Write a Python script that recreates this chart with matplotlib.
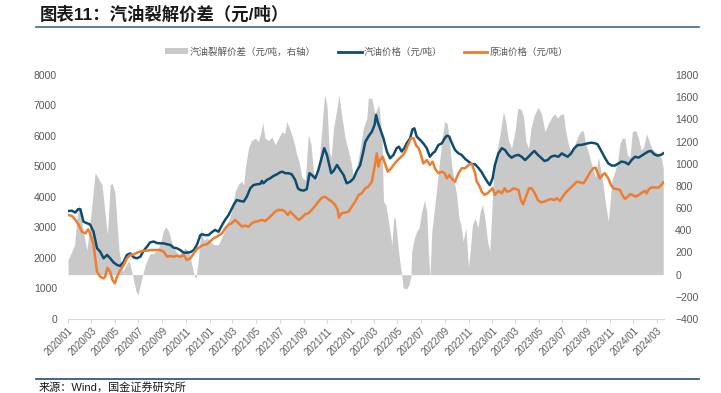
import pandas as pd
import matplotlib.pyplot as plt
import matplotlib.dates as mdates
from matplotlib.patches import Patch
from matplotlib.lines import Line2D

plt.rcParams['font.family'] = ['Liberation Sans', 'Noto Sans CJK SC']

# 汽油价格（元/吨）
gas_dates = ['2020-01-01', '2020-01-11', '2020-01-20', '2020-01-27', '2020-02-02', '2020-02-10', '2020-02-19',
             '2020-02-27', '2020-03-07', '2020-03-16', '2020-03-24', '2020-04-02', '2020-04-11', '2020-04-19',
             '2020-04-28', '2020-05-07', '2020-05-15', '2020-05-24', '2020-06-01', '2020-06-10', '2020-06-19',
             '2020-06-27', '2020-07-06', '2020-07-14', '2020-07-23', '2020-07-31', '2020-08-09', '2020-08-18',
             '2020-08-26', '2020-09-04', '2020-09-13', '2020-09-21', '2020-09-30', '2020-10-08', '2020-10-17',
             '2020-10-26', '2020-11-03', '2020-11-12', '2020-11-21', '2020-11-29', '2020-12-08', '2020-12-12',
             '2020-12-20', '2020-12-29', '2021-01-07', '2021-01-15', '2021-01-24', '2021-02-02', '2021-02-10',
             '2021-02-19', '2021-02-27', '2021-03-06', '2021-03-12', '2021-03-21', '2021-03-30', '2021-04-07',
             '2021-04-16', '2021-04-24', '2021-05-03', '2021-05-12', '2021-05-16', '2021-05-20', '2021-05-29',
             '2021-06-06', '2021-06-15', '2021-06-24', '2021-07-02', '2021-07-08', '2021-07-15', '2021-07-24',
             '2021-08-01', '2021-08-10', '2021-08-17', '2021-08-23', '2021-09-01', '2021-09-09', '2021-09-16',
             '2021-09-22', '2021-10-01', '2021-10-09', '2021-10-18', '2021-10-24', '2021-10-31', '2021-11-06',
             '2021-11-11', '2021-11-17', '2021-11-26', '2021-12-04', '2021-12-13', '2021-12-21', '2021-12-30',
             '2022-01-08', '2022-01-16', '2022-01-25', '2022-02-02', '2022-02-07', '2022-02-15', '2022-02-24',
             '2022-03-03', '2022-03-07', '2022-03-11', '2022-03-17', '2022-03-26', '2022-04-04', '2022-04-12',
             '2022-04-21', '2022-04-29', '2022-05-05', '2022-05-12', '2022-05-19', '2022-05-25', '2022-06-03',
             '2022-06-09', '2022-06-14', '2022-06-20', '2022-06-29', '2022-07-07', '2022-07-16', '2022-07-24',
             '2022-07-31', '2022-08-06', '2022-08-15', '2022-08-24', '2022-08-31', '2022-09-06', '2022-09-12',
             '2022-09-18', '2022-09-27', '2022-10-06', '2022-10-14', '2022-10-23', '2022-11-01', '2022-11-09',
             '2022-11-18', '2022-11-26', '2022-12-05', '2022-12-13', '2022-12-22', '2022-12-26', '2023-01-02',
             '2023-01-08', '2023-01-17', '2023-01-26', '2023-02-03', '2023-02-12', '2023-02-20', '2023-03-01',
             '2023-03-10', '2023-03-18', '2023-03-27', '2023-04-05', '2023-04-13', '2023-04-20', '2023-04-29',
             '2023-05-07', '2023-05-16', '2023-05-24', '2023-06-02', '2023-06-11', '2023-06-21', '2023-06-30',
             '2023-07-06', '2023-07-15', '2023-07-24', '2023-08-01', '2023-08-10', '2023-08-18', '2023-08-27',
             '2023-09-05', '2023-09-15', '2023-09-24', '2023-09-30', '2023-10-06', '2023-10-13', '2023-10-19',
             '2023-10-28', '2023-11-06', '2023-11-14', '2023-11-23', '2023-12-01', '2023-12-10', '2023-12-19',
             '2023-12-27', '2024-01-05', '2024-01-14', '2024-01-22', '2024-01-31', '2024-02-08', '2024-02-15',
             '2024-02-24', '2024-03-03', '2024-03-12', '2024-03-18']
gas_price = [3540, 3550, 3490, 3600, 3600, 3190, 3140, 3100, 2860, 2320, 2210, 1990, 2100, 1990,
             1850, 1770, 1740, 1880, 2100, 2150, 2020, 1990, 2045, 2230, 2370, 2510, 2540, 2490,
             2480, 2480, 2450, 2430, 2340, 2320, 2260, 2175, 2175, 2190, 2260, 2430, 2750, 2780,
             2750, 2750, 2850, 2920, 2860, 3080, 3250, 3410, 3610, 3790, 3900, 3870, 3850, 4010,
             4285, 4390, 4415, 4430, 4525, 4450, 4560, 4610, 4690, 4745, 4810, 4830, 4780, 4780,
             4745, 4560, 4285, 4230, 4210, 4260, 4780, 4720, 4610, 4890, 5320, 5600, 5380, 5050,
             4780, 4850, 5050, 4890, 4720, 4450, 4500, 4610, 4850, 5050, 5490, 5800, 5980, 6140,
             6360, 6690, 6470, 6250, 5925, 5490, 5270, 5380, 5600, 5650, 5490, 5600, 5760, 5925,
             6220, 6250, 5980, 5870, 5760, 5600, 5320, 5430, 5490, 5705, 5760, 5925, 6010, 5980,
             5790, 5540, 5430, 5380, 5250, 5160, 5080, 5070, 4960, 4810, 4630, 4450, 4390, 4610,
             5050, 5430, 5600, 5540, 5380, 5290, 5355, 5380, 5320, 5210, 5320, 5430, 5510, 5380,
             5290, 5180, 5210, 5320, 5355, 5320, 5430, 5380, 5320, 5430, 5600, 5705, 5705, 5730,
             5760, 5780, 5760, 5730, 5600, 5430, 5290, 5100, 5030, 5030, 5100, 5160, 5140, 5070,
             5210, 5320, 5290, 5355, 5430, 5490, 5510, 5400, 5355, 5380, 5430]

# 原油价格（元/吨）
crude_dates = ['2020-01-01', '2020-01-11', '2020-01-20', '2020-01-29', '2020-02-06', '2020-02-15', '2020-02-22',
               '2020-02-27', '2020-03-07', '2020-03-16', '2020-03-24', '2020-04-02', '2020-04-06', '2020-04-12',
               '2020-04-19', '2020-04-25', '2020-05-01', '2020-05-07', '2020-05-15', '2020-05-24', '2020-06-01',
               '2020-06-10', '2020-06-19', '2020-06-27', '2020-07-06', '2020-07-14', '2020-07-23', '2020-07-31',
               '2020-08-13', '2020-08-26', '2020-09-04', '2020-09-13', '2020-09-21', '2020-09-30', '2020-10-08',
               '2020-10-17', '2020-10-26', '2020-11-03', '2020-11-12', '2020-11-21', '2020-11-29', '2020-12-08',
               '2020-12-16', '2020-12-25', '2021-01-02', '2021-01-11', '2021-01-20', '2021-02-02', '2021-02-10',
               '2021-02-19', '2021-02-27', '2021-03-08', '2021-03-17', '2021-03-25', '2021-04-03', '2021-04-12',
               '2021-04-20', '2021-04-29', '2021-05-07', '2021-05-16', '2021-05-24', '2021-06-02', '2021-06-11',
               '2021-06-19', '2021-06-28', '2021-07-07', '2021-07-15', '2021-07-22', '2021-07-28', '2021-08-06',
               '2021-08-14', '2021-08-20', '2021-08-27', '2021-09-05', '2021-09-13', '2021-09-22', '2021-10-01',
               '2021-10-09', '2021-10-18', '2021-10-26', '2021-11-04', '2021-11-13', '2021-11-21', '2021-11-28',
               '2021-12-01', '2021-12-08', '2021-12-17', '2021-12-26', '2022-01-03', '2022-01-12', '2022-01-21',
               '2022-01-29', '2022-02-07', '2022-02-15', '2022-02-24', '2022-03-04', '2022-03-09', '2022-03-13',
               '2022-03-17', '2022-03-24', '2022-03-30', '2022-04-06', '2022-04-15', '2022-04-24', '2022-05-02',
               '2022-05-11', '2022-05-19', '2022-05-28', '2022-06-05', '2022-06-12', '2022-06-18', '2022-06-25',
               '2022-07-01', '2022-07-07', '2022-07-16', '2022-07-24', '2022-07-31', '2022-08-06', '2022-08-15',
               '2022-08-24', '2022-08-31', '2022-09-06', '2022-09-12', '2022-09-18', '2022-09-27', '2022-10-06',
               '2022-10-14', '2022-10-23', '2022-11-01', '2022-11-09', '2022-11-18', '2022-11-22', '2022-11-28',
               '2022-12-05', '2022-12-12', '2022-12-20', '2022-12-26', '2023-01-02', '2023-01-08', '2023-01-17',
               '2023-01-26', '2023-02-02', '2023-02-08', '2023-02-16', '2023-02-25', '2023-03-10', '2023-03-16',
               '2023-03-22', '2023-03-29', '2023-04-06', '2023-04-13', '2023-04-20', '2023-04-29', '2023-05-07',
               '2023-05-16', '2023-05-24', '2023-06-02', '2023-06-11', '2023-06-17', '2023-06-25', '2023-07-04',
               '2023-07-12', '2023-07-21', '2023-07-30', '2023-08-07', '2023-08-16', '2023-08-25', '2023-09-02',
               '2023-09-11', '2023-09-19', '2023-09-25', '2023-09-30', '2023-10-06', '2023-10-13', '2023-10-19',
               '2023-10-28', '2023-11-04', '2023-11-10', '2023-11-19', '2023-11-27', '2023-12-03', '2023-12-10',
               '2023-12-17', '2023-12-23', '2023-12-29', '2024-01-07', '2024-01-15', '2024-01-24', '2024-01-31',
               '2024-02-04', '2024-02-10', '2024-02-17', '2024-02-27', '2024-03-06', '2024-03-13', '2024-03-18']
crude_price = [3410, 3380, 3250, 3080, 2860, 2810, 2940, 2810, 2430, 1550, 1390, 1330, 1390, 1680,
               1550, 1280, 1170, 1390, 1610, 1770, 1990, 2100, 2120, 2175, 2210, 2230, 2240, 2260,
               2260, 2260, 2210, 2040, 2065, 2040, 2075, 2040, 2100, 1935, 1990, 2150, 2295, 2370,
               2430, 2450, 2540, 2645, 2700, 2810, 2970, 3100, 3140, 3250, 3140, 3030, 3060, 3030,
               3140, 3190, 3210, 3250, 3210, 3300, 3410, 3520, 3575, 3575, 3520, 3410, 3520, 3410,
               3300, 3250, 3320, 3440, 3465, 3575, 3715, 3850, 3980, 4010, 3925, 3850, 3740, 3575,
               3320, 3465, 3490, 3520, 3680, 3850, 4070, 4120, 4285, 4340, 4500, 5050, 5430, 5000,
               5210, 5320, 5100, 4830, 4940, 5100, 5210, 5320, 5430, 5700, 5925, 5925, 5700, 5600,
               5380, 5100, 5210, 5050, 5160, 4940, 4780, 4830, 4780, 4610, 4720, 4610, 4500, 4780,
               4940, 4940, 5050, 5100, 4780, 4500, 4390, 4175, 4070, 4120, 4200, 4285, 4070, 4200,
               4120, 4285, 4175, 4200, 4285, 4230, 3900, 3760, 4010, 4285, 4285, 4150, 3900, 3825,
               3850, 3900, 3935, 3900, 3960, 3870, 4045, 4175, 4285, 4390, 4500, 4480, 4450, 4610,
               4810, 4940, 4960, 4810, 4610, 4720, 4780, 4610, 4390, 4285, 4260, 4230, 4070, 3935,
               4010, 4090, 4070, 4010, 4070, 4150, 4200, 4120, 4260, 4310, 4310, 4310, 4390, 4480]

# 汽油裂解价差（元/吨，右轴）
spread_dates = ['2020-01-01', '2020-01-11', '2020-01-18', '2020-01-24', '2020-01-30', '2020-02-04', '2020-02-11',
                '2020-02-19', '2020-03-02', '2020-03-11', '2020-03-24', '2020-03-29', '2020-04-06', '2020-04-12',
                '2020-04-19', '2020-04-24', '2020-05-01', '2020-05-07', '2020-05-12', '2020-05-18', '2020-05-22',
                '2020-05-28', '2020-06-06', '2020-06-12', '2020-06-19', '2020-06-25', '2020-06-30', '2020-07-06',
                '2020-07-12', '2020-07-19', '2020-07-26', '2020-07-31', '2020-08-09', '2020-08-18', '2020-08-26',
                '2020-09-04', '2020-09-10', '2020-09-17', '2020-09-26', '2020-10-04', '2020-10-13', '2020-10-21',
                '2020-10-30', '2020-11-08', '2020-11-16', '2020-11-23', '2020-11-27', '2020-12-03', '2020-12-10',
                '2020-12-16', '2020-12-25', '2021-01-02', '2021-01-07', '2021-01-15', '2021-01-24', '2021-02-02',
                '2021-02-15', '2021-02-27', '2021-03-08', '2021-03-17', '2021-03-25', '2021-03-30', '2021-04-03',
                '2021-04-12', '2021-04-20', '2021-04-29', '2021-05-07', '2021-05-14', '2021-05-18', '2021-05-24',
                '2021-06-02', '2021-06-11', '2021-06-19', '2021-06-28', '2021-07-07', '2021-07-14', '2021-07-19',
                '2021-07-25', '2021-08-01', '2021-08-08', '2021-08-14', '2021-08-20', '2021-08-27', '2021-09-05',
                '2021-09-13', '2021-09-20', '2021-09-26', '2021-10-02', '2021-10-09', '2021-10-18', '2021-10-25',
                '2021-10-31', '2021-11-06', '2021-11-11', '2021-11-17', '2021-11-26', '2021-12-01', '2021-12-08',
                '2021-12-17', '2021-12-26', '2022-01-01', '2022-01-08', '2022-01-16', '2022-01-25', '2022-02-02',
                '2022-02-11', '2022-02-15', '2022-02-24', '2022-03-04', '2022-03-14', '2022-03-22', '2022-03-26',
                '2022-04-01', '2022-04-08', '2022-04-17', '2022-04-21', '2022-04-25', '2022-04-29', '2022-05-05',
                '2022-05-12', '2022-05-16', '2022-05-25', '2022-05-31', '2022-06-05', '2022-06-07', '2022-06-14',
                '2022-06-20', '2022-06-26', '2022-07-03', '2022-07-10', '2022-07-16', '2022-07-20', '2022-07-24',
                '2022-07-29', '2022-08-05', '2022-08-11', '2022-08-17', '2022-08-24', '2022-08-31', '2022-09-07',
                '2022-09-12', '2022-09-18', '2022-09-25', '2022-10-01', '2022-10-07', '2022-10-12', '2022-10-18',
                '2022-10-25', '2022-11-01', '2022-11-05', '2022-11-11', '2022-11-18', '2022-11-25', '2022-12-01',
                '2022-12-07', '2022-12-13', '2022-12-20', '2022-12-26', '2023-01-04', '2023-01-13', '2023-01-21',
                '2023-01-30', '2023-02-05', '2023-02-12', '2023-02-20', '2023-03-01', '2023-03-08', '2023-03-17',
                '2023-03-23', '2023-03-29', '2023-04-05', '2023-04-11', '2023-04-20', '2023-04-30', '2023-05-09',
                '2023-05-17', '2023-05-26', '2023-06-04', '2023-06-12', '2023-06-19', '2023-06-25', '2023-07-04',
                '2023-07-10', '2023-07-17', '2023-07-25', '2023-08-03', '2023-08-12', '2023-08-20', '2023-08-25',
                '2023-08-30', '2023-09-06', '2023-09-13', '2023-09-19', '2023-09-25', '2023-10-02', '2023-10-06',
                '2023-10-13', '2023-10-19', '2023-10-24', '2023-10-28', '2023-11-01', '2023-11-06', '2023-11-14',
                '2023-11-21', '2023-11-27', '2023-12-03', '2023-12-10', '2023-12-16', '2023-12-23', '2023-12-29',
                '2024-01-07', '2024-01-14', '2024-01-21', '2024-01-27', '2024-02-04', '2024-02-10', '2024-02-17',
                '2024-02-25', '2024-03-05', '2024-03-13', '2024-03-18']
spread = [130, 210, 270, 510, 635, 510, 360, 220, 600, 920, 840, 810, 540, 360,
          810, 825, 750, 450, 210, 90, 30, 70, 130, 60, -60, -150, -180, -90,
          0, 90, 150, 190, 190, 220, 270, 400, 430, 390, 280, 220, 180, 210,
          240, 210, 90, -20, -30, 150, 420, 310, 330, 310, 280, 270, 270, 340,
          450, 570, 750, 820, 840, 810, 960, 1150, 1210, 1230, 1200, 1290, 1370, 1230,
          1210, 1240, 1170, 1230, 1290, 1270, 1380, 1330, 1260, 1180, 1080, 1020, 880, 850,
          1265, 1170, 930, 850, 930, 1320, 1620, 1530, 1110, 1060, 1320, 1500, 1620, 1440,
          1230, 1110, 1020, 870, 960, 1140, 1320, 1410, 1590, 1590, 1450, 1530, 1260, 660,
          630, 480, 270, 500, 520, 390, 180, 0, -120, -130, -90, -20, 210, 330,
          390, 420, 570, 670, 570, 210, -20, 390, 600, 790, 990, 1200, 1380, 1360,
          1230, 990, 840, 720, 510, 450, 300, 420, 60, 210, 450, 510, 420, 570,
          630, 510, 300, 210, 870, 1110, 1260, 1470, 1380, 1210, 1140, 1290, 1500, 1490,
          1420, 1200, 1140, 1320, 1440, 1510, 1440, 1290, 1360, 1420, 1450, 1410, 1440, 1450,
          1290, 1170, 1090, 1180, 1260, 1300, 1290, 1180, 1110, 1020, 940, 880, 1060, 990,
          850, 690, 570, 480, 630, 840, 930, 1020, 1180, 1230, 1230, 1080, 1060, 1290,
          1300, 1230, 1120, 1150, 1270, 1210, 1140, 1110, 1090, 1050, 960]

gas_x = pd.to_datetime(gas_dates)
crude_x = pd.to_datetime(crude_dates)
spread_x = pd.to_datetime(spread_dates)

label_color = '#595959'

fig = plt.figure(figsize=(7.21, 3.93), dpi=100)
ax1 = fig.add_axes([0.0943, 0.1883, 0.8267, 0.6209])
ax2 = ax1.twinx()

# gray area on the right axis, lines on top
ax2.fill_between(spread_x, 0, spread, color='#C9C9C9', linewidth=0)
ax1.set_zorder(ax2.get_zorder() + 1)
ax1.patch.set_visible(False)

ax1.plot(gas_x, gas_price, color='#0E4D70', linewidth=1.8)
ax1.plot(crude_x, crude_price, color='#ED7D31', linewidth=1.8)

ax1.set_ylim(0, 8000)
ax1.set_yticks(range(0, 8001, 1000))
ax2.set_ylim(-400, 1800)
ax2.set_yticks(range(-400, 1801, 200))
ax1.set_xlim(pd.Timestamp('2020-01-01'), pd.Timestamp('2024-03-20'))

ax1.xaxis.set_major_locator(mdates.MonthLocator(bymonth=[1, 3, 5, 7, 9, 11]))
ax1.xaxis.set_major_formatter(mdates.DateFormatter('%Y/%m'))
for lab in ax1.get_xticklabels():
    lab.set_rotation(45)
    lab.set_ha('right')
    lab.set_rotation_mode('anchor')

for ax in (ax1, ax2):
    for s in ax.spines.values():
        s.set_visible(False)
ax1.spines['bottom'].set_visible(True)
ax1.spines['bottom'].set_color('#D9D9D9')

ax1.tick_params(axis='x', length=3, color='#D9D9D9', labelsize=7, labelcolor=label_color, pad=2)
ax1.tick_params(axis='y', length=0, labelsize=7.5, labelcolor=label_color, pad=8)
ax2.tick_params(axis='y', length=0, labelsize=7.5, labelcolor=label_color, pad=8)

handles = [Patch(facecolor='#C9C9C9', edgecolor='none'),
           Line2D([], [], color='#0E4D70', linewidth=2),
           Line2D([], [], color='#ED7D31', linewidth=2)]
labels = ['汽油裂解价差（元/吨，右轴）', '汽油价格（元/吨）', '原油价格（元/吨）']
fig.legend(handles, labels, loc='center', bbox_to_anchor=(0.508, 0.868), ncol=3, frameon=False,
           fontsize=6.8, labelcolor=label_color, handlelength=2.5, handleheight=0.6,
           columnspacing=2.3, handletextpad=0.2)

# title, rules and source
fig.text(0.055, 0.965, '图表11：汽油裂解价差（元/吨）', fontsize=12.5, fontweight='bold',
         color='#1a1a1a', va='center', ha='left')
fig.add_artist(Line2D([0.05, 0.97], [0.931, 0.931], color='#3D6A8A', linewidth=1.2))
fig.add_artist(Line2D([0.05, 0.97], [0.036, 0.036], color='#1F4E79', linewidth=1.2))
fig.text(0.053, 0.0, '来源：Wind，国金证券研究所', fontsize=8, color='#1a1a1a', va='bottom', ha='left')

fig.savefig('out.png', dpi=100)
